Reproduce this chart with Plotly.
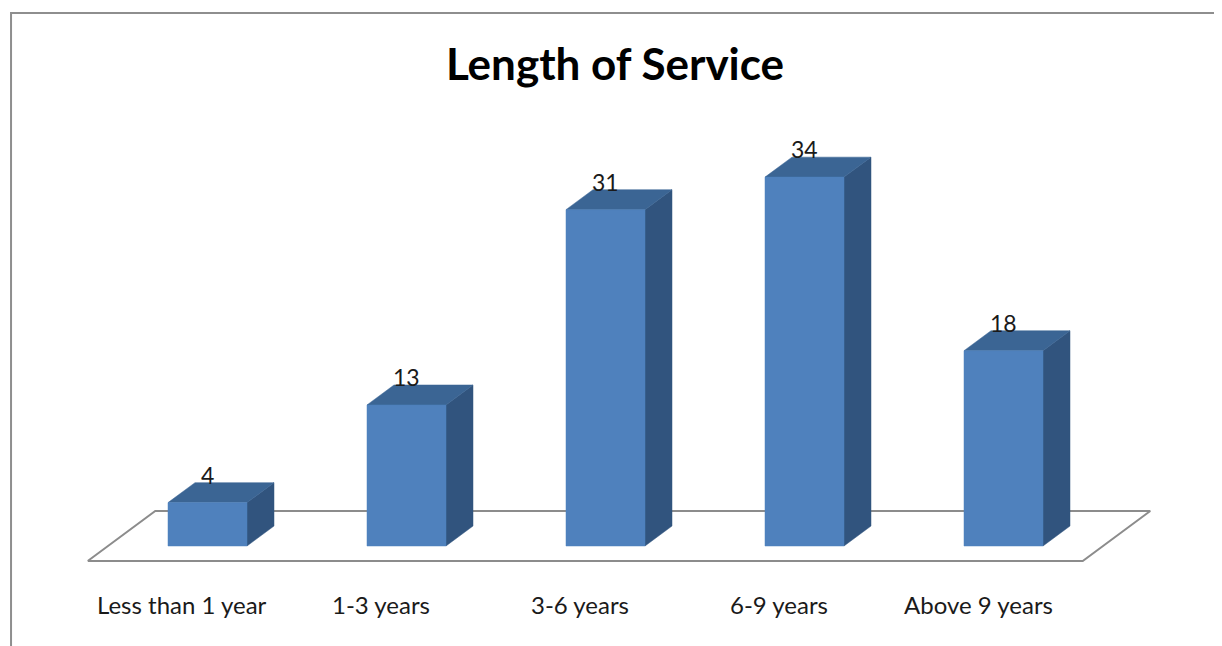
import plotly.graph_objects as go

categories = ["Less than 1 year", "1-3 years", "3-6 years", "6-9 years", "Above 9 years"]
values = [4, 13, 31, 34, 18]
title_text = "Length of Service"

# pseudo-3D geometry (in axis units)
BAR_W = 0.397      # bar front width in category units
DEPTH_X = 0.1357   # depth offset in x units
DEPTH_Y = 1.84     # depth offset in value units
FLOOR_FRONT = -0.75
FLOOR_BACK = 1.75

FRONT = "#4F81BD"
TOP = "#3B6594"
SIDE = "#31547E"
FLOOR_LINE = "#8C8C8C"
FONT = "Lato, Open Sans, sans-serif"

def proj(x, v, d):
    return x + DEPTH_X * d, v + DEPTH_Y * d

fig = go.Figure()

# floor
fx, fy = [], []
n = len(categories)
for (xx, dd) in [(-0.5, FLOOR_FRONT), (n - 0.5, FLOOR_FRONT), (n - 0.5, FLOOR_BACK), (-0.5, FLOOR_BACK), (-0.5, FLOOR_FRONT)]:
    px, py = proj(xx, 0, dd)
    fx.append(px); fy.append(py)
fig.add_trace(go.Scatter(x=fx, y=fy, mode="lines", fill="toself", fillcolor="white",
                         line=dict(color=FLOOR_LINE, width=2), hoverinfo="skip", showlegend=False))

front_x, front_y, top_x, top_y, side_x, side_y = [], [], [], [], [], []
for i, v in enumerate(values):
    x0, x1 = i - BAR_W / 2, i + BAR_W / 2
    for (xx, vv) in [(x0, 0), (x1, 0), (x1, v), (x0, v), (x0, 0)]:
        front_x.append(xx); front_y.append(vv)
    front_x.append(None); front_y.append(None)
    pts = [proj(x0, v, 0), proj(x1, v, 0), proj(x1, v, 1), proj(x0, v, 1), proj(x0, v, 0)]
    for px, py in pts:
        top_x.append(px); top_y.append(py)
    top_x.append(None); top_y.append(None)
    pts = [proj(x1, 0, 0), proj(x1, 0, 1), proj(x1, v, 1), proj(x1, v, 0), proj(x1, 0, 0)]
    for px, py in pts:
        side_x.append(px); side_y.append(py)
    side_x.append(None); side_y.append(None)

for xs, ys, col in [(side_x, side_y, SIDE), (top_x, top_y, TOP), (front_x, front_y, FRONT)]:
    fig.add_trace(go.Scatter(x=xs, y=ys, mode="lines", fill="toself", fillcolor=col,
                             line=dict(color=col, width=0.5), hoverinfo="skip", showlegend=False))

# data labels
for i, v in enumerate(values):
    fig.add_annotation(x=i, y=v + DEPTH_Y, text=str(v), showarrow=False, yanchor="middle",
                       yshift=8, font=dict(family=FONT, size=23, color="#1a1a1a"))

# category labels
for i, c in enumerate(categories):
    fig.add_annotation(x=i - 0.126, y=-5.35, text=c, showarrow=False, yanchor="middle",
                       font=dict(family=FONT, size=24, color="#1a1a1a"))

# frame (left and top edges visible)
fig.add_shape(type="path", xref="paper", yref="paper",
              path="M 0.0025,-0.05 L 0.0025,0.9922 L 1.05,0.9922",
              line=dict(color="#8E8E8E", width=2))

fig.update_layout(
    width=1214, height=638,
    margin=dict(l=0, r=0, t=0, b=0),
    paper_bgcolor="white", plot_bgcolor="white",
    title=dict(text="<b>" + title_text + "</b>", x=0.5, xanchor="center", y=0.9107, yanchor="middle",
               font=dict(family=FONT, size=44, color="black")),
    xaxis=dict(range=[-1.0025, 5.098], visible=False, fixedrange=True),
    yaxis=dict(range=[-9.217, 49.585], visible=False, fixedrange=True),
    showlegend=False,
)

fig.write_html("out.html")
